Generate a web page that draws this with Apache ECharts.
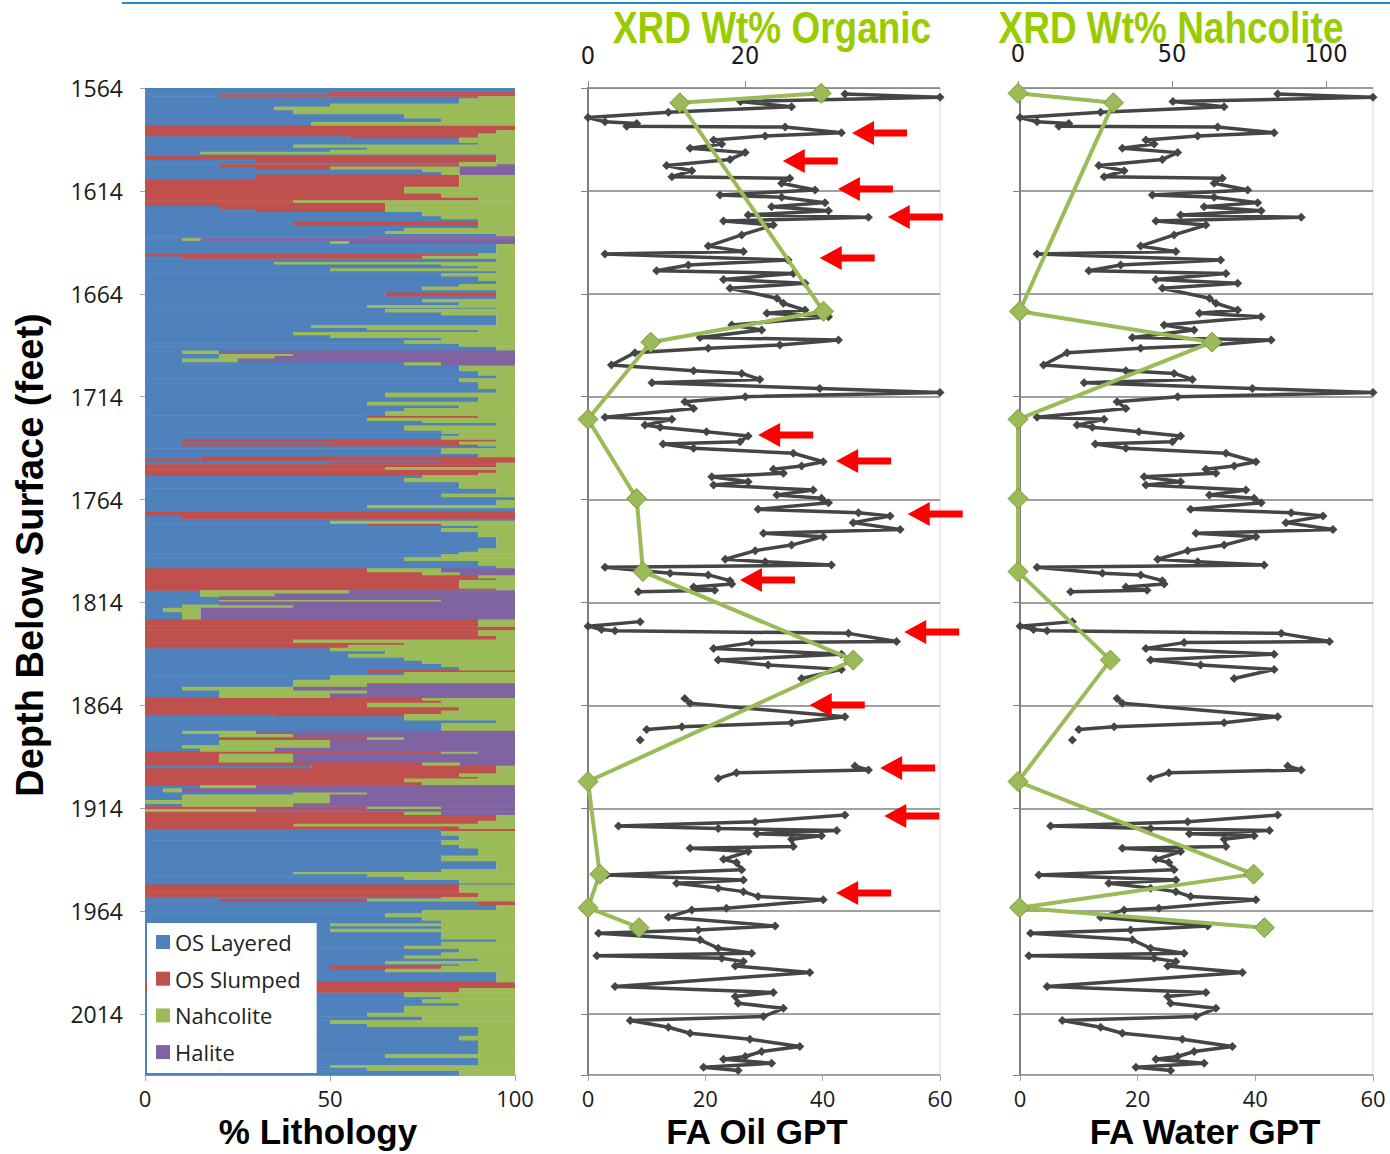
<!DOCTYPE html>
<html><head><meta charset="utf-8">
<script src="https://cdn.jsdelivr.net/npm/echarts@6/dist/echarts.min.js"></script>
<style>html,body{margin:0;padding:0;background:#fff}#c{width:1390px;height:1154px}</style>
</head><body><div id="c"></div>
<script>
// ---------------- Lithology (top depth of each interval, % of each component) ----------------
const lithTop = [1564,1566,1567,1568,1569,1571.5,1573,1574.5,1576.5,1578.5,
 1580.4,1582,1584.4,1586,1587.2,1588.1,1590.4,1591.4,1592.7,1594,
 1595,1596,1597,1598.5,1600,1601,1602.2,1603.3,1604.5,1606,
 1608.5,1612,1615,1617,1618.5,1619.5,1621,1622.5,1624,1626,
 1627.5,1629,1630.5,1632,1633.5,1634.7,1636,1637,1638,1639.5,
 1644.3,1645.5,1646.7,1648.5,1649.5,1650.3,1651.6,1652.7,1654,1655.3,
 1657.5,1659.2,1660.5,1662,1663.4,1665,1666.5,1667.8,1669.4,1670.5,
 1671.3,1672.8,1674.3,1679.2,1680.3,1681.4,1682.6,1683.8,1685.2,1686.6,
 1688,1689.5,1691.6,1693,1694.2,1695.5,1697,1698.6,1701.3,1703.5,
 1705,1706.7,1710,1712,1714,1716.4,1718,1719.5,1721,1723,
 1724.2,1725.5,1726.5,1728,1730.2,1731.8,1733,1734.6,1735.8,1737,
 1737.8,1739,1741.5,1743.1,1744,1744.8,1746,1746.8,1748.2,1749.2,
 1751,1752,1753.5,1755.3,1758.5,1761,1762.6,1764.2,1766.6,1767.9,
 1769.9,1771.5,1773.1,1774.3,1775.5,1776.5,1777.8,1779.5,1782,1787.7,
 1789.3,1790.5,1792,1793.5,1795.8,1797.4,1799,1800.5,1802,1803.1,
 1807,1808,1809.6,1811,1812.5,1813.5,1815,1816.5,1818.5,1822,
 1825.5,1827.5,1830,1832,1833.3,1834.5,1836,1837.4,1839,1840.5,
 1842,1843.6,1845,1846.8,1847.8,1849.3,1851.5,1853.3,1855,1856.5,
 1858.2,1860.1,1861.4,1862.7,1864.6,1866.5,1868.2,1869,1871.1,1872.5,
 1876.3,1877.6,1879.2,1880.8,1883.3,1884.6,1886.2,1887.5,1891.5,1893,
 1894.6,1897,1898.5,1899.5,1901,1902.7,1904.3,1906,1907.3,1910,
 1911.6,1913,1914.3,1915.4,1917,1920,1921.5,1922.5,1923.8,1925,
 1927,1929.5,1931.5,1933.3,1937,1939.5,1943.5,1945,1945.8,1947,
 1948.5,1950.3,1951,1954.8,1957.2,1958,1959,1961,1963.4,1965,
 1966.6,1968.3,1969.9,1971,1972.5,1974,1977.5,1978.8,1980.8,1982,
 1984,1985.5,1986.8,1988.2,1989.5,1990.5,1992,1993.4,1998.3,2001.3,
 2003.4,2005.5,2006.8,2008.4,2010,2013.4,2015,2017,2018.5,2020,
 2024.5,2026.5,2033.5,2035,2038.8,2039.8,2041.3];
const lithBase = 2043.6;
const osLayered = [100,50,20,90,85,50,35,40,70,80,
 45,0,0,0,55,85,90,40,60,50,
 15,95,0,30,85,20,30,75,80,30,
 0,0,0,0,0,0,20,30,75,80,
 90,40,90,70,65,95,60,10,50,95,
 0,10,95,35,80,90,50,95,80,90,
 95,85,75,95,65,95,75,85,60,95,
 65,80,95,45,60,90,40,50,80,70,
 85,95,10,20,20,10,70,85,90,95,
 85,90,95,65,90,60,85,70,65,60,
 60,75,95,70,80,85,80,10,50,10,
 95,80,90,15,0,80,50,0,0,0,
 0,75,70,85,95,80,100,95,60,100,
 0,10,100,50,60,90,80,90,95,90,
 85,80,70,90,95,0,0,0,0,0,
 0,15,15,20,20,20,10,5,10,0,
 0,0,0,0,0,0,50,65,55,70,
 75,80,85,60,70,50,40,40,10,20,
 20,0,0,0,0,0,35,70,95,80,
 10,20,20,20,10,15,0,0,0,45,
 0,0,0,0,0,15,5,40,10,0,
 10,0,0,0,0,0,0,0,80,80,
 85,80,85,90,80,95,80,40,60,70,
 85,100,0,0,80,20,90,95,75,65,
 75,80,50,80,50,80,95,80,70,85,
 80,70,90,65,85,50,65,95,0,0,
 70,80,75,85,70,60,75,50,60,90,
 85,90,65,90,50,60,85];
const osSlumped = [0,50,80,0,0,0,0,0,0,0,
 0,100,95,90,35,0,0,0,0,0,
 0,0,95,65,0,65,20,0,0,55,
 85,70,80,90,40,65,45,35,0,0,
 0,50,0,0,0,0,0,0,0,0,
 90,65,0,0,0,0,0,0,0,0,
 0,0,0,0,30,0,0,0,0,0,
 0,0,0,0,0,0,0,0,0,0,
 0,0,0,0,0,0,0,0,0,0,
 0,0,0,0,0,0,0,0,0,30,
 0,0,0,0,0,0,0,85,35,80,
 0,0,0,85,100,20,45,95,65,95,
 90,0,0,0,0,0,0,0,0,0,
 100,90,0,0,20,0,0,0,0,0,
 0,0,0,0,0,60,75,90,95,85,
 95,0,0,0,0,0,0,0,0,90,
 100,90,95,40,70,55,0,0,0,0,
 0,0,0,40,0,0,0,0,0,0,
 0,75,80,60,85,80,35,0,0,0,
 0,0,40,0,0,0,80,20,75,50,
 95,85,90,70,75,0,0,0,0,0,
 0,60,0,70,95,90,40,85,20,0,
 0,0,0,0,0,0,0,0,0,0,
 0,0,85,90,0,40,10,0,0,0,
 0,0,0,0,0,0,0,0,0,0,
 0,0,0,0,0,30,0,0,100,85,
 0,0,0,0,0,0,0,0,0,0,
 0,0,0,0,0,0,0];
const nahcolite = [0,0,0,10,15,50,65,60,30,20,
 55,0,5,10,10,15,10,60,40,50,
 85,5,5,5,15,10,35,10,5,15,
 15,30,20,10,60,35,35,35,25,20,
 10,10,10,30,35,5,0,5,5,5,
 10,25,5,65,20,10,50,5,20,10,
 5,15,25,5,5,5,25,15,40,5,
 35,20,5,55,40,10,60,50,20,30,
 15,5,10,20,15,15,10,15,10,5,
 15,10,5,35,10,40,15,30,35,10,
 40,25,5,30,20,15,20,5,15,10,
 5,20,10,0,0,0,5,5,35,5,
 10,25,30,15,5,20,0,5,40,0,
 0,0,0,50,20,10,20,10,5,10,
 15,20,30,10,5,20,10,10,5,15,
 5,40,20,0,60,0,30,10,5,10,
 0,10,5,60,30,45,50,35,45,30,
 25,20,15,0,30,50,60,20,30,40,
 30,25,20,40,15,20,30,30,5,20,
 20,20,10,30,40,20,10,20,10,5,
 5,15,10,30,25,15,5,20,40,50,
 30,20,30,10,5,10,60,15,0,20,
 15,20,15,10,20,5,20,60,40,30,
 15,0,15,10,20,40,0,5,25,35,
 25,20,50,20,50,20,5,20,30,15,
 20,30,10,35,15,20,35,5,0,15,
 30,20,25,15,30,40,25,50,40,10,
 15,10,35,10,50,40,15];
const halite = [0,0,0,0,0,0,0,0,0,0,
 0,0,0,0,0,0,0,0,0,0,
 0,0,0,0,0,5,15,15,15,0,
 0,0,0,0,0,0,0,0,0,0,
 0,0,0,0,0,0,40,85,45,0,
 0,0,0,0,0,0,0,0,0,0,
 0,0,0,0,0,0,0,0,0,0,
 0,0,0,0,0,0,0,0,0,0,
 0,0,80,60,65,75,20,0,0,0,
 0,0,0,0,0,0,0,0,0,0,
 0,0,0,0,0,0,0,0,0,0,
 0,0,0,0,0,0,0,0,0,0,
 0,0,0,0,0,0,0,0,0,0,
 0,0,0,0,0,0,0,0,0,0,
 0,0,0,0,0,20,15,0,0,0,
 0,45,65,80,20,80,60,85,85,0,
 0,0,0,0,0,0,0,0,0,0,
 0,0,0,0,0,0,0,40,60,40,
 50,0,0,0,0,0,0,0,0,0,
 70,60,30,50,50,65,10,60,15,0,
 0,0,0,0,0,70,90,40,50,50,
 60,20,70,20,0,0,0,0,0,0,
 0,0,0,0,0,0,0,0,0,0,
 0,0,0,0,0,0,0,0,0,0,
 0,0,0,0,0,0,0,0,0,0,
 0,0,0,0,0,0,0,0,0,0,
 0,0,0,0,0,0,0,0,0,0,
 0,0,0,0,0,0,0];

// ---------------- Fischer assay GPT trace (null = gap in data) ----------------
const gptDepth = [1566.9,1568.5,1570.6,1573.1,1575.8,1578.3,1580.4,1581.2,1582.6,1583,
 1585.7,1587.3,1589.3,1591.2,1593.3,1595.4,1598.7,1601.7,1604.2,1607.1,
 1607.9,1610.3,1613.6,1616,1617.1,1619.7,1621.7,1623.6,1625.7,1626.8,
 1628.6,1630.6,1635.4,1640.8,1643.5,1644.7,1647.6,1650,1652.8,1654.1,
 1657,1658.9,1661.3,1666.2,1668.6,1671.9,1673.5,1675.1,1679.2,1681.6,
 1685.2,1686.5,1688.9,1690.5,1692.6,1698.6,1701.4,1702.7,1705.6,1707.2,
 1710,1712,1714,1716.4,1719.7,1724,1725,1727.8,1728.9,1731,
 1733.1,1735.9,1737,1739.1,1741.5,1745.6,1747.7,1749.3,1751.2,1752.9,
 1755.3,1756.9,1759.3,1761.8,1763.4,1765.5,1768.7,1770.4,1772,1775.2,
 1778.5,1780.4,1782,1786.1,1788.8,1793,1794.2,1795.8,1796.9,1799.8,
 1800.6,1803.4,1805,1806.5,1808,1808.8,1816,1823.3,1825.5,1827.1,
 1827.7,1829,1833,1833.5,1836.3,1839.1,1842,1844.4,1846.5,1850.9,
 1855,1860.6,1863,1869.5,1872.4,1874.4,1875.7,1878,1880.8,1887,
 1893.5,1895.4,1896.7,1899.5,1908,1917.3,1920.5,1922.6,1923.8,1924.8,
 1926.4,1927.4,1929,1932.6,1933.4,1935,1938.8,1940.4,1943.9,1946.4,
 1948.8,1950.4,1952.8,1954.5,1956.9,1958.5,1962.6,1963.4,1966.9,1971.2,
 1973.1,1974.7,1977.9,1982,1984.4,1985.7,1986.9,1988.5,1990.6,1993.8,
 2000.6,2003.5,2005.5,2008.7,2011.2,2015.2,2017.1,2020.4,2023.3,2026.2,
 2029.8,2032.2,2034.6,2035.9,2037.9,2039.8,2041.4];
const faOilGpt = [43.8,60,26,34.7,13.7,0,2.9,8.3,6.6,33.6,
 43.2,30.2,21.4,22.8,17.4,26.8,24.2,13.4,17.7,14.3,
 34.4,33,38.7,22.5,33,40.4,31.3,41,27.3,47.8,
 23.1,31.6,26.2,20.5,26.5,2.9,34.1,17.1,11.7,35,
 23.1,37,24.2,32.2,33.3,37,30.5,41,24.5,29.6,
 19.1,42.7,32.7,20.5,8,4,18,26.2,29.3,10.9,
 39.5,60,26.8,16.5,18,2.9,14.3,9.7,12.3,20.2,
 27.3,25.9,12.8,18,35,40.1,36.4,31.6,33.3,21.1,
 27.3,21.4,38.4,32.2,39.8,41,29,46.1,51.5,45.2,
 53.2,29.9,40.1,34.7,28.5,23.4,30.2,41.5,2.9,14,
 20.5,24.2,24.5,18,21.6,8.6,null,8.9,0,2.3,
 4.6,44.4,52.6,27.9,21.4,43.2,22.2,30.7,43.2,36.4,
 null,16.5,17.4,43.8,34.7,16,10,null,8.9,null,
 45.5,47.8,25.3,22.2,null,43.8,28.5,5.2,22.2,42.4,
 28.8,39.8,34.7,35,17.4,27.3,23.1,25.3,26.2,3.2,
 26.5,15.1,22.2,26.5,29,40.1,23.6,17.7,13.7,31.9,
 18.8,1.8,19.1,22.2,27.9,1.5,22.8,26.5,25.1,37.8,
 4.6,31.6,25.1,25.6,33.3,29.9,7.2,13.7,17.4,27.6,
 36.1,29.6,26.8,23.1,31.3,19.7,25.6];
// the reference plots the very same trace in the FA Water GPT panel
const faWaterGpt = faOilGpt.slice();

// ---------------- XRD samples ----------------
const xrdDepth = [1566.6,1571.2,1672.5,1687.5,1725,1763.5,1799,1842,1901,1946,1962.3,1972];
const xrdOrganic = [29.7,11.7,30,8,0,6.2,7,33.8,0,1.5,0,6.5];
const xrdNahcolite = [0,31,0.5,63,0,0,0,30,0,76.5,0.5,80];

// ---------------- red arrow annotations (tip position) ----------------
const arrowDepth = [1585.9,1599.5,1613.1,1626.7,1646.6,1732.6,1745.2,1771,1803.1,1828.3,1863.8,1894.4,1917.7,1955.2];
const arrowTip = [45,33.2,42.6,51.1,39.5,29,42.3,54.5,25.9,53.9,37.8,49.8,50.5,42.3];

// ---------------- build ----------------
const litNames = ['OS Layered','OS Slumped','Nahcolite','Halite'];
const litColors = ['#4F81BD','#C0504D','#9BBB59','#8064A2'];
const comps = [osLayered, osSlumped, nahcolite, halite];
function lithData(k){
  return lithTop.map(function(t,i){
    const bot = i + 1 < lithTop.length ? lithTop[i+1] : lithBase;
    let s = 0; for (let j = 0; j < k; j++) s += comps[j][i];
    return [t, bot, s, s + comps[k][i]];
  });
}
function lithRect(params, api){
  const a = api.value(2), b = api.value(3);
  if (!(b > a)) return null;
  const p0 = api.coord([a, api.value(0)]);
  const p1 = api.coord([b, api.value(1)]);
  return {type:'rect', shape:{x:p0[0], y:p0[1], width:p1[0]-p0[0], height:p1[1]-p0[1]+0.6},
          style:{fill: api.visual('color')}};
}
function arrowShape(params, api){
  const p = api.coord([api.value(0), api.value(1)]);
  const x = p[0], y = p[1];
  const L = 55, H = 22, hw = 12, sw = 3.5;
  return {type:'polygon', shape:{points:[[x,y],[x+H,y-hw],[x+H,y-sw],[x+L,y-sw],[x+L,y+sw],[x+H,y+sw],[x+H,y+hw]]},
          style:{fill:'#ff0000'}};
}
const pair = (vals) => gptDepth.map((d,i) => [vals[i] === null ? '-' : vals[i], d]);

const labelFont = "'Open Sans', 'Liberation Sans', sans-serif";
const narrowFont = "'Liberation Sans Narrow', 'DejaVu Sans Condensed', sans-serif";
const axisGray = '#8c8c8c';

function depthAxis(grid, withLabels){
  return {
    type:'value', gridIndex:grid, inverse:true, min:1564, max:lithBase, interval:50,
    axisLine:{show:true, lineStyle:{color: withLabels ? '#a6a6a6' : '#7f7f7f', width: withLabels ? 1 : 2}},
    axisTick:{show:true, inside:false, length: withLabels ? 5 : 7, lineStyle:{color: withLabels ? '#a6a6a6' : '#7f7f7f'}},
    axisLabel:{show:withLabels, fontFamily:labelFont, fontSize:23, color:'#1a1a1a', margin:22, showMaxLabel:false,
               formatter:function(v){ return String(Math.round(v)); }},
    splitLine:{show:!withLabels, lineStyle:{color:'#808080', width:1.5}}
  };
}
function bottomAxis(grid, max, interval){
  return {
    type:'value', gridIndex:grid, position:'bottom', min:0, max:max, interval:interval,
    axisLine:{show:true, lineStyle:{color:'#a6a6a6'}},
    axisTick:{show:true, length:6, lineStyle:{color:'#a6a6a6'}},
    axisLabel:{fontFamily:labelFont, fontSize:22, color:'#1a1a1a', margin:12},
    splitLine:{show:false}
  };
}

const option = {
  animation:false,
  backgroundColor:'#ffffff',
  grid:[
    {left:145, top:88, width:370, height:987},
    {left:588, top:88, width:352, height:987, show:true, borderColor:'#d9d9d9', borderWidth:1},
    {left:1020, top:88, width:353, height:987, show:true, borderColor:'#d9d9d9', borderWidth:1},
    {left:1018, top:88, width:308, height:987}
  ],
  xAxis:[
    bottomAxis(0, 100, 50),
    bottomAxis(1, 60, 20),
    {type:'value', gridIndex:1, position:'top', min:0, max:44.84, interval:20,
     axisLine:{show:true, lineStyle:{color:axisGray}},
     axisTick:{show:true, length:7, lineStyle:{color:axisGray}, customValues:[0,20,40]},
     axisLabel:{fontFamily:narrowFont, fontSize:25, color:'#1a1a1a', margin:20, showMaxLabel:false, customValues:[0,20,40]},
     splitLine:{show:false}},
    bottomAxis(2, 60, 20),
    {type:'value', gridIndex:3, position:'top', min:0, max:100, interval:50,
     axisLine:{show:true, lineStyle:{color:axisGray}},
     axisTick:{show:true, length:7, lineStyle:{color:axisGray}},
     axisLabel:{fontFamily:narrowFont, fontSize:25, color:'#1a1a1a', margin:22},
     splitLine:{show:false}}
  ],
  yAxis:[
    depthAxis(0, true),
    depthAxis(1, false),
    depthAxis(2, false),
    {type:'value', gridIndex:3, inverse:true, min:1564, max:lithBase, show:false, splitLine:{show:false}}
  ],
  legend:{
    orient:'vertical', left:147, top:923, backgroundColor:'#ffffff',
    padding:[7, 16, 9, 9], itemGap:12.7, itemWidth:14, itemHeight:14, icon:'rect',
    textStyle:{fontFamily:labelFont, fontSize:22, color:'#222', lineHeight:24},
    data: litNames
  },
  series: litNames.map(function(n,k){
    return {name:n, type:'custom', xAxisIndex:0, yAxisIndex:0, renderItem:lithRect,
      itemStyle:{color:litColors[k]}, dimensions:['top','bottom','from','to'],
      encode:{x:[2,3], y:[0,1]}, data:lithData(k), silent:true, z:1};
  }).concat([
    {name:'FA Oil GPT', type:'line', xAxisIndex:1, yAxisIndex:1, data:pair(faOilGpt),
     symbol:'diamond', symbolSize:9, connectNulls:false, z:2,
     lineStyle:{color:'#454545', width:3.5}, itemStyle:{color:'#454545'}},
    {name:'FA Water GPT', type:'line', xAxisIndex:3, yAxisIndex:2, data:pair(faWaterGpt),
     symbol:'diamond', symbolSize:9, connectNulls:false, z:2,
     lineStyle:{color:'#454545', width:3.5}, itemStyle:{color:'#454545'}},
    {name:'XRD Wt% Organic', type:'line', xAxisIndex:2, yAxisIndex:1, clip:false,
     data:xrdDepth.map((d,i)=>[xrdOrganic[i], d]),
     symbol:'diamond', symbolSize:20, z:3,
     lineStyle:{color:'#9BBB59', width:4}, itemStyle:{color:'#9BBB59', borderColor:'#7a9a3a', borderWidth:1}},
    {name:'XRD Wt% Nahcolite', type:'line', xAxisIndex:4, yAxisIndex:3, clip:false,
     data:xrdDepth.map((d,i)=>[xrdNahcolite[i], d]),
     symbol:'diamond', symbolSize:20, z:3,
     lineStyle:{color:'#9BBB59', width:4}, itemStyle:{color:'#9BBB59', borderColor:'#7a9a3a', borderWidth:1}},
    {name:'arrows', type:'custom', xAxisIndex:1, yAxisIndex:1, clip:false, silent:true, z:5,
     renderItem:arrowShape, encode:{x:0, y:1},
     data:arrowDepth.map((d,i)=>[arrowTip[i], d])}
  ]),
  graphic:[
    {type:'line', shape:{x1:122, y1:3, x2:1390, y2:3}, style:{stroke:'#1a8cd0', lineWidth:2}},
    {type:'text', x:772, y:28, scaleX:0.84, style:{text:'XRD Wt% Organic', font:"bold 44px 'Liberation Sans', Arial, sans-serif", fill:'#99cc00', textAlign:'center', textVerticalAlign:'middle'}},
    {type:'text', x:1171, y:28, scaleX:0.84, style:{text:'XRD Wt% Nahcolite', font:"bold 44px 'Liberation Sans', Arial, sans-serif", fill:'#99cc00', textAlign:'center', textVerticalAlign:'middle'}},
    {type:'text', x:318, y:1131, style:{text:'% Lithology', font:"bold 35px 'Liberation Sans', Arial, sans-serif", fill:'#000', textAlign:'center', textVerticalAlign:'middle'}},
    {type:'text', x:757, y:1131, style:{text:'FA Oil GPT', font:"bold 35px 'Liberation Sans', Arial, sans-serif", fill:'#000', textAlign:'center', textVerticalAlign:'middle'}},
    {type:'text', x:1205, y:1131, style:{text:'FA Water GPT', font:"bold 35px 'Liberation Sans', Arial, sans-serif", fill:'#000', textAlign:'center', textVerticalAlign:'middle'}},
    {type:'text', x:30, y:555, rotation:Math.PI/2, style:{text:'Depth Below Surface (feet)', font:"bold 38px 'Liberation Sans', Arial, sans-serif", fill:'#000', textAlign:'center', textVerticalAlign:'middle'}}
  ]
};
const chart = echarts.init(document.getElementById('c'), null, {renderer:'svg', width:1390, height:1154});
chart.setOption(option);
</script>
</body></html>
